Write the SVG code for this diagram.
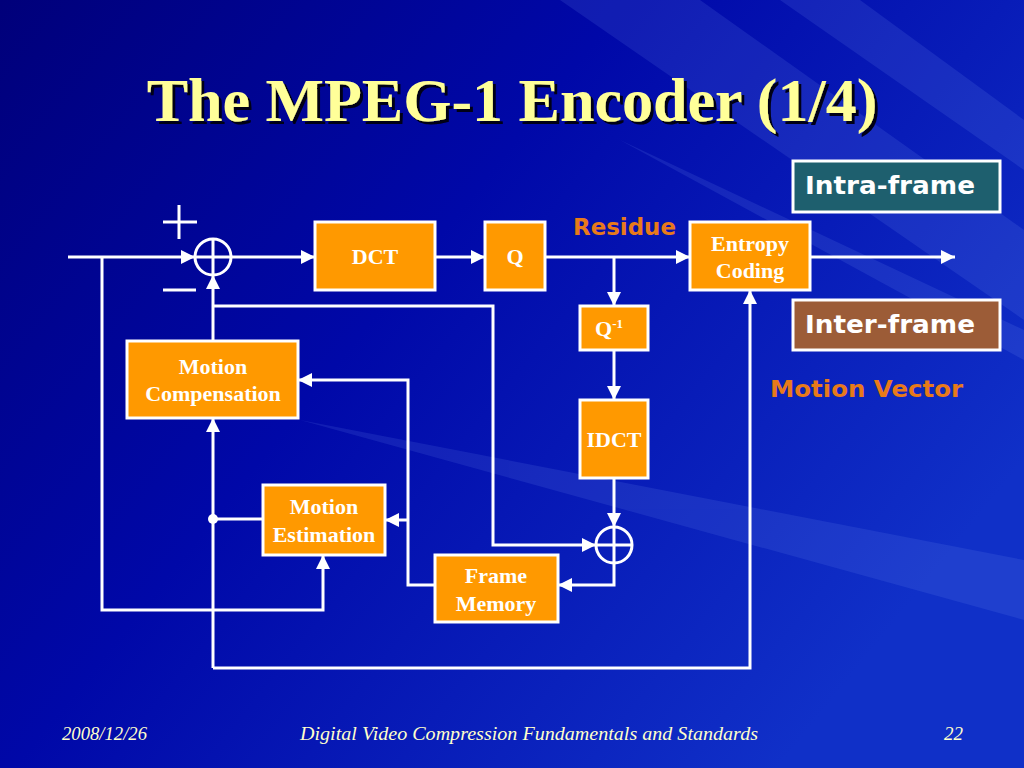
<svg xmlns="http://www.w3.org/2000/svg" width="1024" height="768" viewBox="0 0 1024 768">
<defs>
<linearGradient id="bg" x1="0" y1="0" x2="1" y2="0.6">
<stop offset="0" stop-color="#00007A"/>
<stop offset="0.45" stop-color="#0008A8"/>
<stop offset="1" stop-color="#1030C8"/>
</linearGradient>
<filter id="sh" x="-5%" y="-20%" width="110%" height="140%">
<feDropShadow dx="3" dy="3" stdDeviation="0.5" flood-color="#000018" flood-opacity="1"/>
</filter>
<marker id="ahs" viewBox="0 0 10 10" refX="10" refY="5" markerWidth="14" markerHeight="14" orient="auto" markerUnits="userSpaceOnUse">
<path d="M0,0 L10,5 L0,10 z" fill="#fff"/>
</marker>
<style>
.box{fill:#FF9900;stroke:#fff;stroke-width:3}
.bt{font-family:"Liberation Serif",serif;font-weight:bold;font-size:22px;fill:#fff;text-anchor:middle}
.ln{fill:none;stroke:#fff;stroke-width:3}
.ar{fill:none;stroke:#fff;stroke-width:3;marker-end:url(#ahs)}
.lg{font-family:"DejaVu Sans",sans-serif;font-weight:bold;font-size:24px;fill:#fff}
.or{font-family:"DejaVu Sans",sans-serif;font-weight:bold;font-size:23px;fill:#E87A1A}
.ft{font-family:"Liberation Serif",serif;font-style:italic;font-size:19px;fill:#FFFFCC}
</style>
</defs>
<rect width="1024" height="768" fill="url(#bg)"/>
<g opacity="0.12" fill="#8FB0FF">
<polygon points="560,0 700,0 1024,230 1024,320"/>
<polygon points="300,420 1024,560 1024,620"/>
<polygon points="620,140 1024,330 1024,360"/>
<polygon points="780,0 860,0 1024,120 1024,170"/>
</g>
<text x="512" y="121" text-anchor="middle" font-family="Liberation Serif,serif" font-weight="bold" font-size="62" fill="#FFFF99" filter="url(#sh)">The MPEG-1 Encoder (1/4)</text>

<g id="connectors">
<path class="ar" d="M68,257 H195"/>
<path class="ar" d="M231,257 H315"/>
<path class="ar" d="M435,257 H485"/>
<path class="ar" d="M545,257 H690"/>
<path class="ar" d="M810,257 H955"/>
<path class="ar" d="M614,257 V306"/>
<path class="ar" d="M614,350 V400"/>
<path class="ar" d="M614,478 V527"/>
<path class="ar" d="M614,563 V585 H558"/>
<path class="ar" d="M213,341 V275"/>
<path class="ar" d="M213,306 H493 V545 H596"/>
<path class="ar" d="M435,585 H408 V380 H298"/>
<path class="ar" d="M408,520 H385"/>
<path class="ln" d="M263,519 H213"/>
<circle cx="213" cy="519" r="5" fill="#fff"/>
<path class="ar" d="M213,668 V418"/>
<path class="ar" d="M213,668 H750 V290"/>
<path class="ar" d="M102,257 V610 H323 V555"/>
</g>

<g id="sum1">
<circle cx="213" cy="257" r="18" fill="none" stroke="#fff" stroke-width="3"/>
<path class="ln" d="M195,257 H231 M213,239 V275"/>
<path class="ln" d="M163,222 H197 M179,205 V239"/>
<path class="ln" d="M163,290 H196"/>
</g>
<g id="sum2">
<circle cx="614" cy="545" r="18" fill="none" stroke="#fff" stroke-width="3"/>
<path class="ln" d="M596,545 H632 M614,527 V563"/>
</g>

<g id="dct"><rect class="box" x="315" y="222" width="120" height="68"/><text class="bt" x="375" y="264">DCT</text></g>
<g id="q"><rect class="box" x="485" y="222" width="60" height="68"/><text class="bt" x="515" y="264">Q</text></g>
<g id="entropy"><rect class="box" x="690" y="222" width="120" height="68"/><text class="bt" x="750" y="251">Entropy</text><text class="bt" x="750" y="278">Coding</text></g>
<g id="qinv"><rect class="box" x="580" y="306" width="68" height="44"/><text class="bt" x="609" y="336">Q<tspan font-size="13" dy="-8">-1</tspan></text></g>
<g id="idct"><rect class="box" x="580" y="400" width="68" height="78"/><text class="bt" x="614" y="447">IDCT</text></g>
<g id="mc"><rect class="box" x="127" y="341" width="171" height="77"/><text class="bt" x="213" y="374">Motion</text><text class="bt" x="213" y="401">Compensation</text></g>
<g id="me"><rect class="box" x="263" y="485" width="122" height="70"/><text class="bt" x="324" y="514">Motion</text><text class="bt" x="324" y="542">Estimation</text></g>
<g id="fm"><rect class="box" x="435" y="555" width="123" height="67"/><text class="bt" x="496" y="583">Frame</text><text class="bt" x="496" y="611">Memory</text></g>

<g id="legend-intra"><rect x="793" y="161" width="207" height="51" fill="#1E5F6E" stroke="#fff" stroke-width="3"/><text class="lg" x="805" y="194" textLength="170" lengthAdjust="spacingAndGlyphs">Intra-frame</text></g>
<g id="legend-inter"><rect x="793" y="300" width="207" height="50" fill="#9C5C37" stroke="#fff" stroke-width="3"/><text class="lg" x="805" y="333" textLength="170" lengthAdjust="spacingAndGlyphs">Inter-frame</text></g>
<text class="or" x="573" y="235" textLength="103" lengthAdjust="spacingAndGlyphs">Residue</text>
<text class="or" x="770" y="397" textLength="193" lengthAdjust="spacingAndGlyphs">Motion Vector</text>

<text class="ft" x="62" y="740" textLength="85" lengthAdjust="spacingAndGlyphs">2008/12/26</text>
<text class="ft" x="300" y="740" textLength="458" lengthAdjust="spacingAndGlyphs">Digital Video Compression Fundamentals and Standards</text>
<text class="ft" x="963" y="740" text-anchor="end">22</text>
</svg>
